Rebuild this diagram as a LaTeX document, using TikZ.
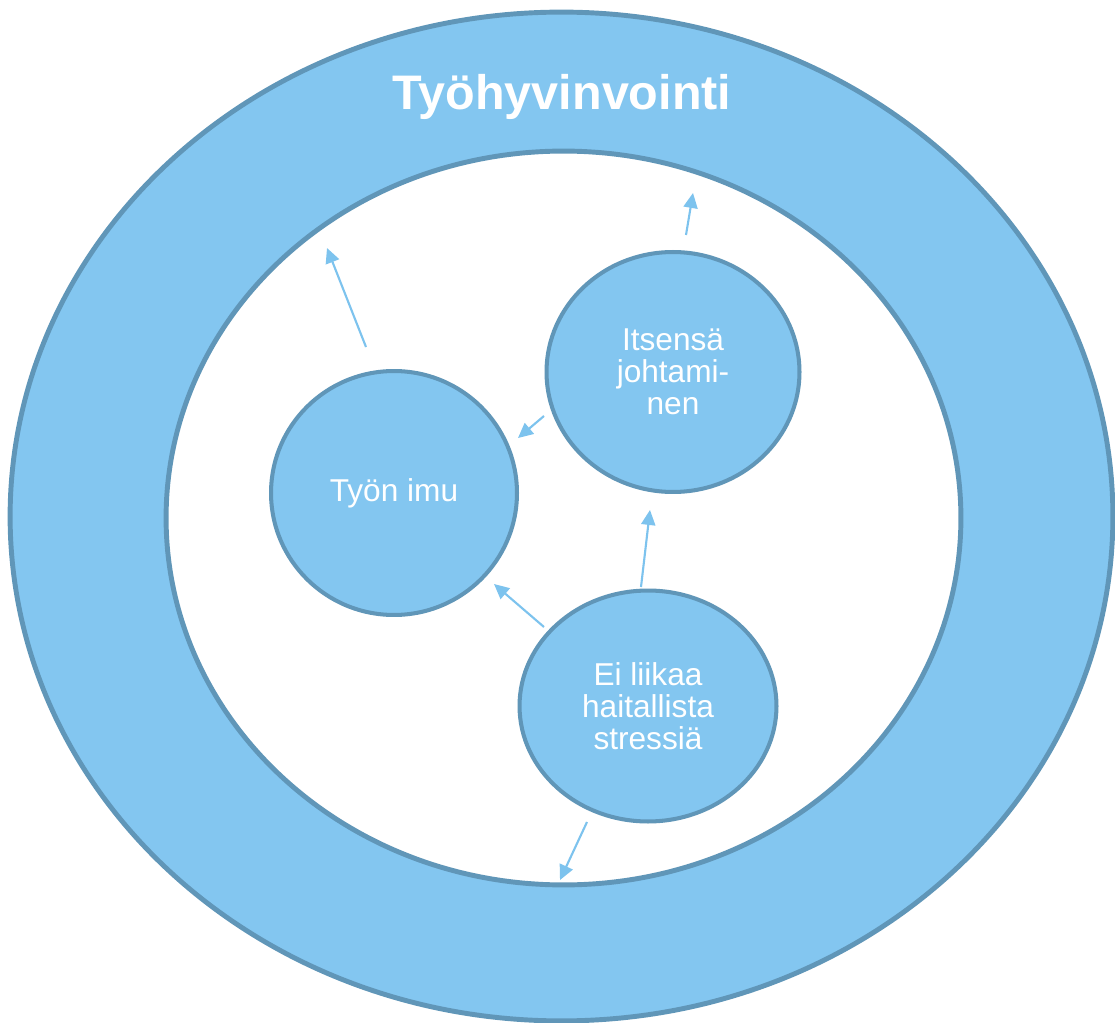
\documentclass[tikz,border=0pt]{standalone}
\usepackage{fontspec}
\setmainfont{Liberation Sans}
\usetikzlibrary{shapes.geometric,arrows.meta}
\definecolor{ringblue}{RGB}{131,198,240}
\definecolor{edgeblue}{RGB}{96,150,184}
\definecolor{arrowblue}{RGB}{125,195,238}
\begin{document}
\begin{tikzpicture}[x=0.02cm,y=-0.02cm,
  ball/.style={ellipse,draw=edgeblue,fill=ringblue,line width=2.3pt,inner sep=0pt,
    text=white,align=center,font=\fontsize{18}{18.2}\selectfont},
  pointer/.style={arrowblue,line width=1.2pt,-{Triangle[length=8.5pt,width=8pt]}}]
\useasboundingbox (0,0) rectangle (1115,1023);
% rings
\draw[edgeblue,fill=ringblue,line width=2.8pt] (561.5,516.5) ellipse [x radius=11.03cm, y radius=10.09cm];
\draw[edgeblue,fill=white,line width=2.8pt] (563.5,518) ellipse [x radius=7.95cm, y radius=7.34cm];
\node[text=white,font=\fontsize{27.6}{30}\selectfont\bfseries,anchor=base] (title) at (562,110) {Työhyvinvointi};
% circles
\node[ball,minimum width=4.92cm,minimum height=4.88cm] (imu) at (394,493) {Työn imu};
\node[ball,minimum width=5.06cm,minimum height=4.8cm] (johto) at (673,372) {Itsensä\\johtami-\\nen};
\node[ball,minimum width=5.14cm,minimum height=4.62cm] (stressi) at (648,706) {Ei liikaa\\haitallista\\stressiä};
% arrow ends
\coordinate (imuTail) at (366,347);   \coordinate (imuTip) at (327,248);
\coordinate (johtoTail) at (686,235); \coordinate (johtoTip) at (693,193);
\coordinate (jiTail) at (544,416);    \coordinate (jiTip) at (518,438);
\coordinate (sjTail) at (641,587);    \coordinate (sjTip) at (650,510);
\coordinate (siTail) at (544,627);    \coordinate (siTip) at (494,584);
\coordinate (sdTail) at (587,822);    \coordinate (sdTip) at (560,880);
\draw[pointer] (imuTail) -- (imuTip);
\draw[pointer] (johtoTail) -- (johtoTip);
\draw[pointer] (jiTail) -- (jiTip);
\draw[pointer] (sjTail) -- (sjTip);
\draw[pointer] (siTail) -- (siTip);
\draw[pointer] (sdTail) -- (sdTip);
\end{tikzpicture}
\end{document}
